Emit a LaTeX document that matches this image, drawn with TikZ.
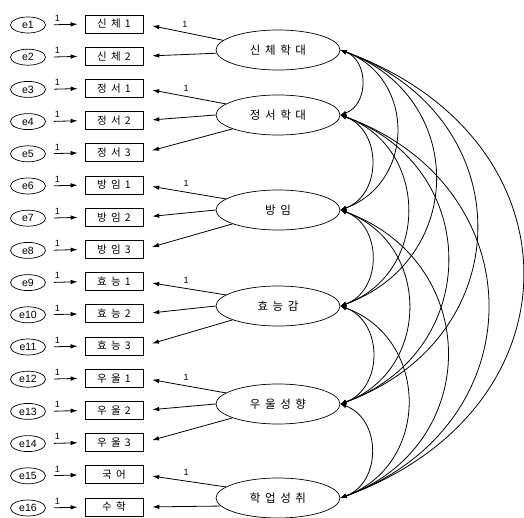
\documentclass[tikz,border=0pt]{standalone}
\usepackage{fontspec}
\setmainfont{Liberation Sans}
\newfontfamily\kr{Noto Sans CJK KR}[LetterSpace=40]
\usetikzlibrary{shapes.geometric,arrows.meta}
\begin{document}
\begin{tikzpicture}[x=1pt,y=-1pt,
  err/.style={draw, ellipse, minimum width=35pt, minimum height=16pt, inner sep=0pt, font=\fontsize{10.5}{11}\selectfont, line width=0.7pt},
  obs/.style={draw, rectangle, minimum width=58pt, minimum height=18pt, inner sep=0pt, font=\kr\fontsize{10.5}{11}\selectfont, line width=0.7pt},
  lat/.style={draw, ellipse, minimum width=124pt, minimum height=40pt, inner sep=0pt, font=\kr\fontsize{11.5}{12}\selectfont, line width=0.7pt},
  arr/.style={-{Latex[length=7pt,width=4.5pt]}, line width=0.8pt},
  cov/.style={{Latex[length=6pt,width=4.5pt]}-{Latex[length=6pt,width=4.5pt]}, line width=0.8pt},
  one/.style={font=\fontsize{9}{10}\selectfont, inner sep=0pt}
]
\useasboundingbox (0,0) rectangle (524,518);

% error terms and indicators
\foreach \i/\t in {1/신체1,2/신체2,3/정서1,4/정서2,5/정서3,6/방임1,7/방임2,8/방임3,
                   9/효능1,10/효능2,11/효능3,12/우울1,13/우울2,14/우울3,15/국어,16/수학}{
  \pgfmathsetmacro{\yy}{25+(\i-1)*32.2}
  \node[err] (e\i) at (28,\yy) {e\i};
  \node[obs] (v\i) at (114,\yy-1) {\t};
  \draw[arr, shorten <=8pt, shorten >=7pt] (e\i.east) -- node[one, above=3pt, pos=0.3]{1} (v\i.west);
}

% latent variables
\node[lat] (L1) at (278,50)  {신체학대};
\node[lat] (L2) at (278,115) {정서학대};
\node[lat] (L3) at (278,210) {방임};
\node[lat] (L4) at (278,306) {효능감};
\node[lat] (L5) at (278,404) {우울성향};
\node[lat] (L6) at (278,498) {학업성취};

% loadings
\draw[arr, shorten >=9pt] (L1.170) -- node[one, above=5pt, pos=0.48]{1} (v1.east);
\draw[arr, shorten >=9pt] (L1.183) -- (v2.east);

\draw[arr, shorten >=9pt] (L2.168) -- node[one, above=5pt, pos=0.48]{1} (v3.east);
\draw[arr, shorten >=9pt] (L2.180) -- (v4.east);
\draw[arr, shorten >=9pt] (L2.197) -- (v5.east);

\draw[arr, shorten >=9pt] (L3.168) -- node[one, above=5pt, pos=0.48]{1} (v6.east);
\draw[arr, shorten >=9pt] (L3.180) -- (v7.east);
\draw[arr, shorten >=9pt] (L3.197) -- (v8.east);

\draw[arr, shorten >=9pt] (L4.168) -- node[one, above=5pt, pos=0.48]{1} (v9.east);
\draw[arr, shorten >=9pt] (L4.180) -- (v10.east);
\draw[arr, shorten >=9pt] (L4.197) -- (v11.east);

\draw[arr, shorten >=9pt] (L5.168) -- node[one, above=5pt, pos=0.48]{1} (v12.east);
\draw[arr, shorten >=9pt] (L5.180) -- (v13.east);
\draw[arr, shorten >=9pt] (L5.197) -- (v14.east);

\draw[arr, shorten >=9pt] (L6.168) -- node[one, above=5pt, pos=0.48]{1} (v15.east);
\draw[arr, shorten >=9pt] (L6.188) -- (v16.east);

% covariances
\foreach \a/\b/\l in {1/2/1.2,2/3/1.2,3/4/1.2,4/5/1.2,5/6/1.2,
                      1/3/1.28,2/4/1.28,3/5/1.28,4/6/1.28,
                      1/4/1.35,2/5/1.35,3/6/1.35,
                      1/5/1.4,2/6/1.4,
                      1/6/1.48}{
  \draw[cov] (L\a.east) to[bend left=70, looseness=\l] (L\b.east);
}
\end{tikzpicture}
\end{document}
